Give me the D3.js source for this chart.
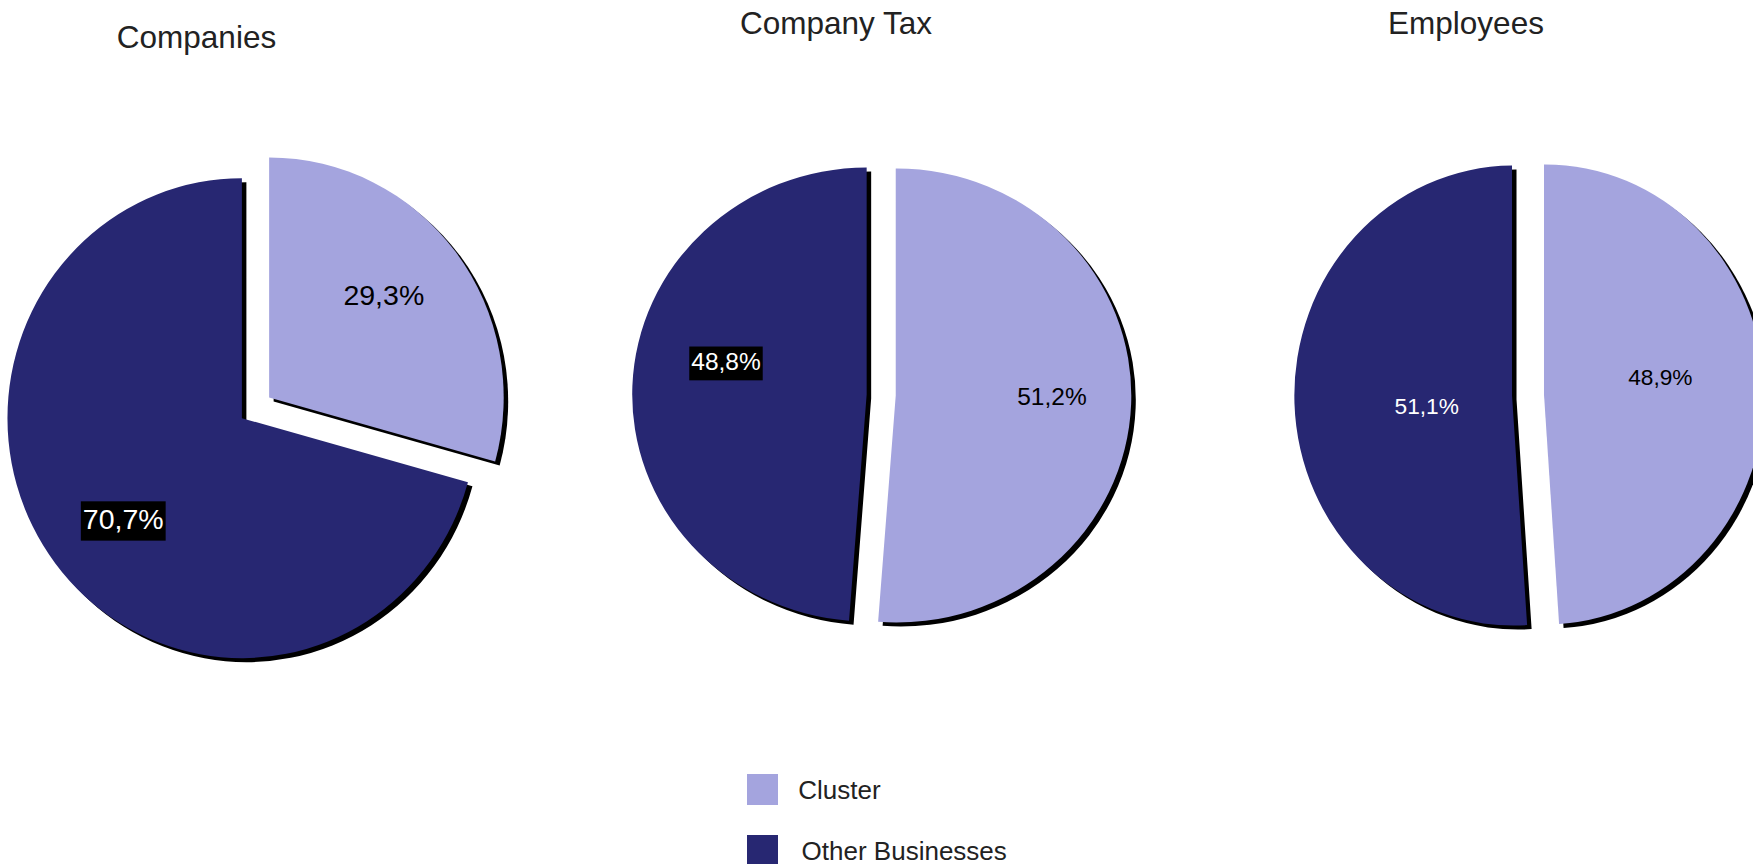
<!DOCTYPE html>
<html>
<head>
<meta charset="utf-8">
<script src="https://cdn.jsdelivr.net/npm/d3@7"></script>
<style>
  html, body { margin: 0; padding: 0; background: #ffffff; }
  svg { display: block; }
  text { font-family: "Liberation Sans", Arial, sans-serif; }
</style>
</head>
<body>
<div id="chart"></div>
<script>
// ---- data ----
const pieTitles = ["Companies", "Company Tax", "Employees"];
const seriesNames = ["Cluster", "Other Businesses"];
const clusterShare = [29.3, 51.2, 48.9];
const otherShare = [70.7, 48.8, 51.1];
const seriesColors = ["#a4a4de", "#272772"];

// ---- layout (positions/sizes only) ----
const W = 1753, H = 864;
const pieLayout = [
  { cx: 255.5, cy: 407.8, rx: 234.5, ry: 240, explode: 17.1, fs: 28.5, tx: 196.5, ty: 48.2,
    labels: [ { frac: 0.643, dA: -3.2, box: false, color: "#000" },
              { frac: 0.663, dA: -3.0, box: true,  color: "#fff" } ] },
  { cx: 881.2, cy: 395.0, rx: 235, ry: 227, explode: 14.55, fs: 24.5, tx: 836, ty: 33.5,
    labels: [ { frac: 0.665, dA: -1.0, box: false, color: "#000" },
              { frac: 0.614, dA: 10.7, box: true,  color: "#fff" } ] },
  { cx: 1528, cy: 395.0, rx: 219, ry: 230, explode: 16, fs: 22.7, tx: 1466, ty: 33.5,
    labels: [ { frac: 0.536, dA: -5.5, box: false, color: "#000" },
              { frac: 0.393, dA: -5.9, box: false, color: "#fff" } ] }
];
const shadowDx = 4.5, shadowDy = 4;
const legendTextX = [798.3, 801.6];

const locale = d3.formatLocale({ decimal: ",", thousands: ".", grouping: [3], currency: ["", ""] });
const fmt = v => locale.format(".1f")(v) + "%";

const color = d3.scaleOrdinal().domain(seriesNames).range(seriesColors);

const svg = d3.select("#chart").append("svg")
  .attr("width", W).attr("height", H)
  .attr("viewBox", `0 0 ${W} ${H}`);
svg.append("rect").attr("width", W).attr("height", H).attr("fill", "#fff");

const pieGen = d3.pie().sort(null).value(d => d.value);
const arcGen = d3.arc().innerRadius(0).outerRadius(1);

pieTitles.forEach((title, i) => {
  const L = pieLayout[i];
  const rows = [
    { name: seriesNames[0], value: clusterShare[i] },
    { name: seriesNames[1], value: otherShare[i] }
  ];
  const arcs = pieGen(rows);
  const g = svg.append("g");

  // title
  svg.append("text")
    .attr("x", L.tx).attr("y", L.ty)
    .attr("text-anchor", "middle")
    .attr("font-size", 31.5)
    .attr("fill", "#222")
    .text(title);

  arcs.forEach(a => {
    const mid = (a.startAngle + a.endAngle) / 2;
    a._v = [L.cx + L.explode * Math.sin(mid), L.cy - L.explode * Math.cos(mid)];
  });
  // shadows
  arcs.forEach(a => {
    const [vx, vy] = a._v;
    g.append("path")
      .attr("d", arcGen(a))
      .attr("fill", "#000")
      .attr("transform", `translate(${vx + shadowDx},${vy + shadowDy}) scale(${L.rx},${L.ry})`);
  });
  // slices
  arcs.forEach(a => {
    const [vx, vy] = a._v;
    g.append("path")
      .attr("d", arcGen(a))
      .attr("fill", color(a.data.name))
      .attr("transform", `translate(${vx},${vy}) scale(${L.rx},${L.ry})`);
  });
  // labels
  arcs.forEach((a, j) => {
    const [vx, vy] = a._v;
    const spec = L.labels[j];
    const mid = (a.startAngle + a.endAngle) / 2 + spec.dA * Math.PI / 180;
    const lx = vx + spec.frac * L.rx * Math.sin(mid);
    const ly = vy - spec.frac * L.ry * Math.cos(mid);
    const lg = g.append("g");
    const t = lg.append("text")
      .attr("x", lx).attr("y", ly + 0.28 * L.fs)
      .attr("text-anchor", "middle")
      .attr("font-size", L.fs)
      .attr("fill", spec.color)
      .text(fmt(a.data.value));
    if (spec.box) {
      const bb = t.node().getBBox();
      lg.insert("rect", "text")
        .attr("x", bb.x - 2).attr("width", bb.width + 4)
        .attr("y", ly + 0.28 * L.fs - 0.97 * L.fs).attr("height", 1.38 * L.fs)
        .attr("fill", "#000");
    }
  });
});

// legend
const legend = svg.append("g");
const legendY = d3.scalePoint().domain(seriesNames).range([774, 835]);
seriesNames.forEach((name, k) => {
  legend.append("rect")
    .attr("x", 747).attr("y", legendY(name))
    .attr("width", 31).attr("height", 31)
    .attr("fill", color(name));
  legend.append("text")
    .attr("x", legendTextX[k]).attr("y", legendY(name) + 24.5)
    .attr("font-size", 26)
    .attr("fill", "#222")
    .text(name);
});
</script>
</body>
</html>
